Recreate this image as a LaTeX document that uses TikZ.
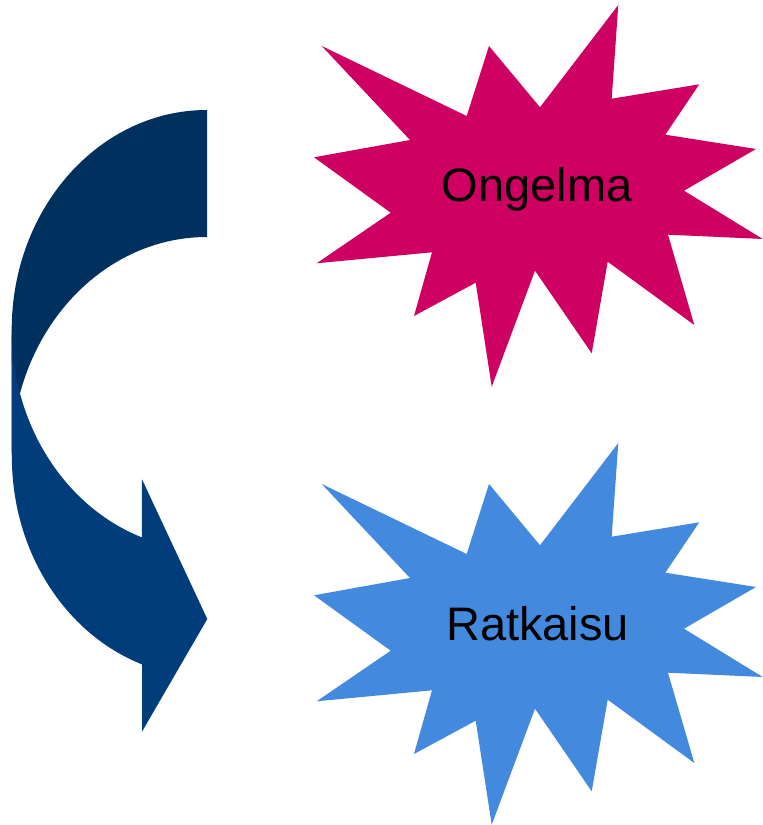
\documentclass[tikz,border=0pt]{standalone}
\usepackage{fontspec}
\setmainfont{Liberation Sans}
\usepackage{tikz}
\usetikzlibrary{positioning}
\definecolor{ongelmapink}{RGB}{206,0,98}
\definecolor{ratkaisublue}{RGB}{67,137,221}
\definecolor{arrowdark}{RGB}{0,48,94}
\definecolor{arrowlight}{RGB}{0,61,122}
% outline of the burst (upper one; the lower one is the same, shifted down)
\newcommand{\burstpath}{(321.7,779) -- (466.7,709) -- (489,779) -- (540,717.7)
  -- (618.3,820) -- (611.7,726.3) -- (699.3,740.7) -- (665.3,690.3)
  -- (756,676) -- (684,634.3) -- (762.7,586) -- (668,590.3)
  -- (694.3,500) -- (607.7,563.3) -- (591.7,471.7) -- (535,554.3)
  -- (491.7,438.3) -- (475.7,542.3) -- (414,509) -- (432,572.7)
  -- (316.7,561.7) -- (390.7,612.3) -- (314,667.7) -- (410,685) -- cycle}
\tikzset{
  burstlabel/.style={anchor=base,text=black,inner sep=0pt,
                     font=\fontsize{47}{56}\selectfont},
  arrowcurve/.style={x radius=195.3,y radius=220}
}

\begin{document}
\begin{tikzpicture}[x=1pt,y=1pt]
  \useasboundingbox (0,0) rectangle (763,825);
  % --- curved arrow: upper band first, lower band with the head on top ---
  \fill[arrowdark] (207,715) arc[start angle=90,end angle=180,arrowcurve]
       -- (11.7,368) arc[start angle=180,end angle=90,arrowcurve] -- cycle;
  \fill[arrowlight] (11.7,495) arc[start angle=180,end angle=250.5,arrowcurve]
       -- (142,345.7) -- (207.3,206) -- (142,93.3) -- (142,160.6)
       arc[start angle=250.5,end angle=180,arrowcurve] -- cycle;
  % --- the two bursts ---
  \fill[ongelmapink] \burstpath;
  \begin{scope}[yshift=-438pt]
    \fill[ratkaisublue] \burstpath;
  \end{scope}
  \node[burstlabel] (ongelma) at (537,623.3) {Ongelma};
  \node[burstlabel] (ratkaisu) at (537.5,184.3) {Ratkaisu};
\end{tikzpicture}
\end{document}
